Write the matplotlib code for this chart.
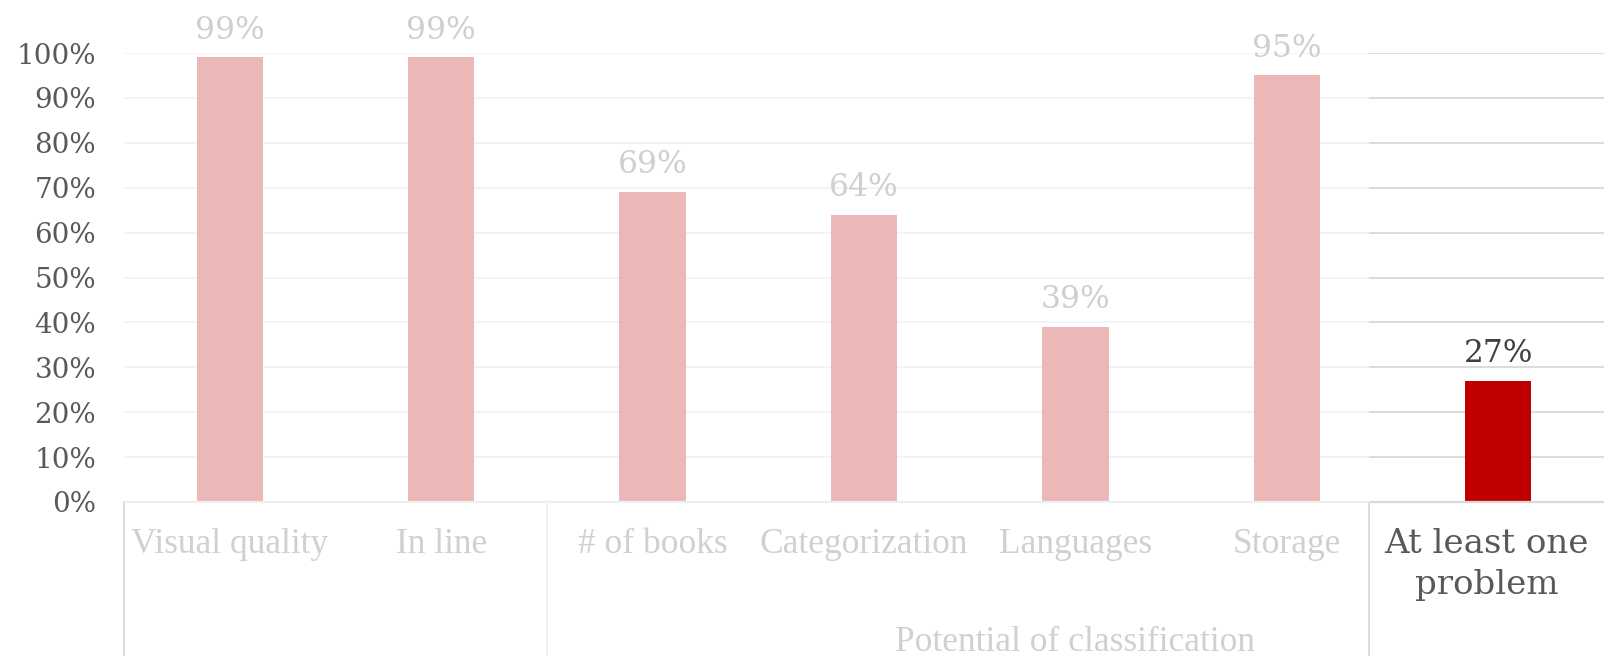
import matplotlib.pyplot as plt
import matplotlib.transforms as mtransforms
import numpy as np

# data
categories = ["Visual quality", "In line", "# of books", "Categorization",
              "Languages", "Storage", "At least one\nproblem"]
values = [0.99, 0.99, 0.69, 0.64, 0.39, 0.95, 0.27]
group_label = "Potential of classification"
yticks = [0, 0.1, 0.2, 0.3, 0.4, 0.5, 0.6, 0.7, 0.8, 0.9, 1.0]

plt.rcParams['font.family'] = ['DejaVu Serif']
narrow = ['Liberation Serif', 'DejaVu Serif']

fig = plt.figure(figsize=(16.04, 6.56), dpi=100)
ax = fig.add_axes([124 / 1604, 154 / 656, 1 - 124 / 1604, 449 / 656])

x = np.arange(len(categories))
pink = '#ECB8B7'
red = '#C00000'
colors = [pink] * (len(categories) - 1) + [red]
ax.bar(x, values, width=0.314, color=colors, zorder=3)

ax.set_xlim(-0.5, len(categories) - 0.5)
ax.set_ylim(0, 1.0)

split = 5.39
right = len(categories) - 0.5
# gridlines: light on the main part, darker on the last category
for yv in yticks[1:]:
    ax.hlines(yv, -0.5, split, color='#F2F2F2', lw=1.3, zorder=1)
    ax.hlines(yv, split, right, color='#D9D9D9', lw=1.3, zorder=1)
ax.hlines(0, -0.5, split, color='#EFEFEF', lw=1.6, zorder=4, clip_on=False)
ax.hlines(0, split, right, color='#D9D9D9', lw=1.6, zorder=4, clip_on=False)

for s in ax.spines.values():
    s.set_visible(False)

ax.set_yticks(yticks)
ax.set_yticklabels([f"{int(round(t * 100))}%" for t in yticks])
ax.tick_params(axis='y', length=0, pad=20, labelsize=20, labelcolor='#595959')

# last label sits centred in its own panel
tick_pos = list(x[:-1]) + [(split + right) / 2]
ax.set_xticks(tick_pos)
ax.set_xticklabels(categories, linespacing=1.35)
ax.tick_params(axis='x', length=0, pad=19)
for lab in ax.get_xticklabels()[:-1]:
    lab.set_color('#D0D0D0')
    lab.set_family(narrow)
    lab.set_fontsize(25.5)
last = ax.get_xticklabels()[-1]
last.set_color('#595959')
last.set_fontsize(24.5)

# value labels
for xi, v in zip(x, values):
    col = '#404040' if xi == len(categories) - 1 else '#CFCFCF'
    ax.annotate(f"{int(round(v * 100))}%", (xi, v), xytext=(0, 8.5),
                textcoords='offset points', ha='center', va='bottom',
                fontsize=22.5, color=col)

# category separators below the axis
trans = mtransforms.blended_transform_factory(ax.transData, ax.transAxes)
bottom = -154 / 449
ax.plot([-0.5, -0.5], [0, bottom], color='#D9D9D9', lw=1.3, transform=trans, clip_on=False)
ax.plot([1.5, 1.5], [0, bottom], color='#F0F0F0', lw=1.3, transform=trans, clip_on=False)
ax.plot([split, split], [0, bottom], color='#D9D9D9', lw=1.3, transform=trans, clip_on=False)

ax.text(4, bottom + 0.03, group_label, transform=trans, ha='center', va='center',
        fontsize=25.5, color='#D0D0D0', family=narrow)

fig.savefig('out.png', dpi=100)
